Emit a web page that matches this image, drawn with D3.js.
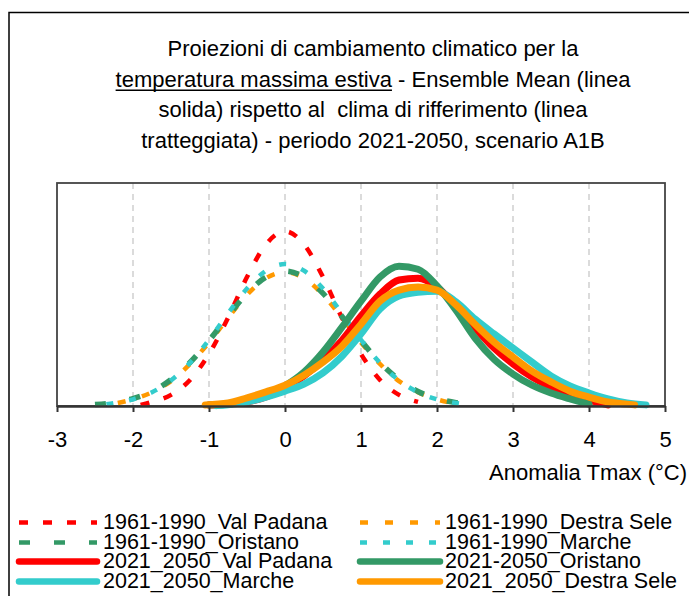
<!DOCTYPE html>
<html>
<head>
<meta charset="utf-8">
<script src="https://cdn.jsdelivr.net/npm/d3@7"></script>
<style>
  body { margin: 0; background: #fff; }
  text { font-family: "Liberation Sans", Arial, sans-serif; fill: #000; white-space: pre; }
</style>
</head>
<body>
<div id="chart"></div>
<script>
// anomaly (°C) grid of each curve, and relative frequency (%)
const xRefValPadana = [-1.9, -1.75, -1.5, -1.25, -1, -0.75, -0.5, -0.25, 0, 0.25, 0.5, 0.75, 1, 1.25, 1.5, 1.75];
const yRefValPadana = [0.03, 0.11, 0.30, 0.70, 1.40, 2.37, 3.47, 4.35, 4.70, 4.35, 3.47, 2.37, 1.40, 0.70, 0.30, 0.11];

const xRefOristano = [-2.5, -2.25, -2, -1.75, -1.5, -1.25, -1, -0.75, -0.5, -0.25, 0, 0.25, 0.5, 0.75, 1, 1.25, 1.5, 1.75, 2, 2.25, 2.5];
const yRefOristano = [0.04, 0.09, 0.20, 0.39, 0.71, 1.17, 1.76, 2.41, 3.03, 3.47, 3.63, 3.47, 3.03, 2.41, 1.76, 1.17, 0.71, 0.39, 0.20, 0.09, 0.04];

const xRefMarche = [-2.35, -2.25, -2, -1.75, -1.5, -1.25, -1, -0.75, -0.5, -0.25, 0, 0.25, 0.5, 0.75, 1, 1.25, 1.5, 1.75, 2, 2.25, 2.35];
const yRefMarche = [0.05, 0.08, 0.18, 0.37, 0.69, 1.16, 1.78, 2.49, 3.16, 3.64, 3.82, 3.64, 3.16, 2.49, 1.78, 1.16, 0.69, 0.37, 0.18, 0.08, 0.05];

const xRefDestraSele = [-2.2, -2, -1.75, -1.5, -1.25, -1, -0.75, -0.5, -0.25, 0, 0.25, 0.5, 0.75, 1, 1.25, 1.5, 1.75, 2, 2.2];
const yRefDestraSele = [0.08, 0.18, 0.37, 0.67, 1.13, 1.71, 2.37, 2.99, 3.44, 3.60, 3.44, 2.99, 2.37, 1.71, 1.13, 0.67, 0.37, 0.18, 0.08];

const xFutValPadana = [-1, -0.75, -0.5, -0.25, 0, 0.25, 0.5, 0.75, 1, 1.25, 1.5, 1.75, 2, 2.25, 2.5, 2.75, 3, 3.25, 3.5, 3.75, 4, 4.25];
const yFutValPadana = [0.03, 0.05, 0.11, 0.24, 0.48, 0.81, 1.24, 1.77, 2.42, 3.01, 3.39, 3.44, 3.20, 2.69, 2.10, 1.56, 1.13, 0.78, 0.51, 0.30, 0.16, 0.03];

const xFutOristano = [-1, -0.75, -0.5, -0.25, 0, 0.25, 0.5, 0.75, 1, 1.25, 1.5, 1.75, 2, 2.25, 2.5, 2.75, 3, 3.25, 3.5, 3.75, 4];
const yFutOristano = [0.03, 0.05, 0.13, 0.27, 0.54, 0.91, 1.45, 2.12, 2.82, 3.47, 3.76, 3.68, 3.23, 2.58, 1.83, 1.26, 0.86, 0.56, 0.35, 0.19, 0.05];

const xFutMarche = [-0.9, -0.75, -0.5, -0.25, 0, 0.25, 0.5, 0.75, 1, 1.25, 1.5, 1.75, 2, 2.25, 2.5, 2.75, 3, 3.25, 3.5, 3.75, 4, 4.25, 4.5, 4.75];
const yFutMarche = [0.01, 0.03, 0.11, 0.24, 0.40, 0.59, 0.89, 1.34, 1.94, 2.61, 2.96, 3.06, 3.09, 2.80, 2.34, 1.94, 1.56, 1.18, 0.81, 0.54, 0.35, 0.19, 0.08, 0.03];

const xFutDestraSele = [-1.05, -0.75, -0.5, -0.25, 0, 0.25, 0.5, 0.75, 1, 1.25, 1.5, 1.75, 2, 2.25, 2.5, 2.75, 3, 3.25, 3.5, 3.75, 4, 4.25, 4.5, 4.6];
const yFutDestraSele = [0.03, 0.08, 0.22, 0.38, 0.56, 0.83, 1.18, 1.61, 2.20, 2.82, 3.12, 3.20, 3.12, 2.72, 2.20, 1.72, 1.32, 0.94, 0.65, 0.40, 0.24, 0.11, 0.05, 0.03];

const xTicks = [-3, -2, -1, 0, 1, 2, 3, 4, 5];

const titleLines = [
  "Proiezioni di cambiamento climatico per la",
  "temperatura massima estiva - Ensemble Mean (linea",
  "solida) rispetto al  clima di rifferimento (linea",
  "tratteggiata) - periodo 2021-2050, scenario A1B"
];
const underlinedPart = "temperatura massima estiva";
const xAxisTitle = "Anomalia Tmax (°C)";

// legend order as in the picture: row by row, two columns
const legendNames = [
  "1961-1990_Val Padana", "1961-1990_Destra Sele",
  "1961-1990_Oristano", "1961-1990_Marche",
  "2021_2050_Val Padana", "2021-2050_Oristano",
  "2021_2050_Marche", "2021_2050_Destra Sele"
];

const red = "#ff0000", green = "#339966", cyan = "#33cccc", orange = "#ff9900";

const series = [
  { name: "1961-1990_Val Padana", xs: xRefValPadana, ys: yRefValPadana, color: red, width: 4.5, dash: "9,15" },
  { name: "1961-1990_Oristano", xs: xRefOristano, ys: yRefOristano, color: green, width: 5.5, dash: "11,24" },
  { name: "1961-1990_Marche", xs: xRefMarche, ys: yRefMarche, color: cyan, width: 4.5, dash: "7,16" },
  { name: "1961-1990_Destra Sele", xs: xRefDestraSele, ys: yRefDestraSele, color: orange, width: 4.5, dash: "8,17" },
  { name: "2021_2050_Val Padana", xs: xFutValPadana, ys: yFutValPadana, color: red, width: 7, dash: null },
  { name: "2021-2050_Oristano", xs: xFutOristano, ys: yFutOristano, color: green, width: 7, dash: null },
  { name: "2021_2050_Marche", xs: xFutMarche, ys: yFutMarche, color: cyan, width: 7, dash: null },
  { name: "2021_2050_Destra Sele", xs: xFutDestraSele, ys: yFutDestraSele, color: orange, width: 7, dash: null }
];

const width = 689, height = 596;
const plot = { left: 57, right: 665, top: 183, bottom: 406 };

const svg = d3.select("#chart").append("svg")
  .attr("width", width)
  .attr("height", height);

// chart area border (only left and top are inside the window)
svg.append("path")
  .attr("d", `M9,${height + 5}V12.5H${width + 5}`)
  .attr("fill", "none")
  .attr("stroke", "#000")
  .attr("stroke-width", 1.5);

const x = d3.scaleLinear().domain([-3, 5]).range([plot.left, plot.right]);
const y = d3.scaleLinear().domain([0, 6]).range([plot.bottom, plot.top]);

// title
const title = svg.append("g").attr("font-size", 22).attr("text-anchor", "middle");
titleLines.forEach((t, i) => {
  const txt = title.append("text")
    .attr("x", 373)
    .attr("y", 56 + i * 30.7)
    .text(t);
  if (i === 1) {
    const node = txt.node();
    const bb = node.getBBox();
    const w = node.getSubStringLength(0, underlinedPart.length);
    title.append("line")
      .attr("x1", bb.x).attr("x2", bb.x + w)
      .attr("y1", 56 + i * 30.7 + 3.5).attr("y2", 56 + i * 30.7 + 3.5)
      .attr("stroke", "#000")
      .attr("stroke-width", 1.5);
  }
});

// vertical gridlines
svg.append("g")
  .selectAll("line")
  .data(xTicks.slice(1, -1))
  .join("line")
  .attr("x1", d => x(d)).attr("x2", d => x(d))
  .attr("y1", plot.top).attr("y2", plot.bottom)
  .attr("stroke", "#c8c8c8")
  .attr("stroke-width", 1.3)
  .attr("stroke-dasharray", "6,5");

// plot frame
svg.append("rect")
  .attr("x", plot.left).attr("y", plot.top)
  .attr("width", plot.right - plot.left)
  .attr("height", plot.bottom - plot.top)
  .attr("fill", "none")
  .attr("stroke", "#444")
  .attr("stroke-width", 1.8);

const line = d3.line()
  .x(d => x(d[0]))
  .y(d => y(d[1]))
  .curve(d3.curveMonotoneX);

const drawOrder = [0, 3, 1, 2, 4, 5, 6, 7];
svg.append("g")
  .selectAll("path")
  .data(drawOrder.map(i => series[i]))
  .join("path")
  .attr("d", s => line(s.xs.map((v, i) => [v, s.ys[i]])))
  .attr("fill", "none")
  .attr("stroke", s => s.color)
  .attr("stroke-width", s => s.width)
  .attr("stroke-dasharray", s => s.dash)
  .attr("stroke-linecap", s => s.dash ? "butt" : "round")
  .attr("stroke-linejoin", "round");

// x axis
const xAxis = svg.append("g")
  .attr("transform", `translate(0,${plot.bottom})`)
  .call(d3.axisBottom(x).tickValues(xTicks).tickFormat(d => String(d)).tickSize(6).tickPadding(19).tickSizeOuter(0));
xAxis.select(".domain").attr("stroke", "#333").attr("stroke-width", 2.5);
xAxis.selectAll(".tick line").attr("stroke", "#333").attr("stroke-width", 2);
xAxis.selectAll(".tick text")
  .attr("font-size", 22)
  .attr("font-family", "Liberation Sans, Arial, sans-serif")
  .attr("fill", "#000");

svg.append("text")
  .attr("x", 687)
  .attr("y", 480)
  .attr("text-anchor", "end")
  .attr("font-size", 22)
  .text(xAxisTitle);

// legend
const legend = svg.append("g").attr("font-size", 21.5);
const colX = [{ x1: 19, x2: 97, tx: 103 }, { x1: 360, x2: 440, tx: 445 }];
const rowY = [529, 549, 568, 588];
legendNames.forEach((name, i) => {
  const s = series.find(d => d.name === name);
  const c = colX[i % 2];
  const baseY = rowY[Math.floor(i / 2)];
  legend.append("line")
    .attr("x1", c.x1).attr("x2", c.x2)
    .attr("y1", baseY - 6.5).attr("y2", baseY - 6.5)
    .attr("stroke", s.color)
    .attr("stroke-width", s.dash ? 4.5 : 6.5)
    .attr("stroke-dasharray", s.dash)
    .attr("stroke-linecap", s.dash ? "butt" : "round");
  legend.append("text")
    .attr("x", c.tx)
    .attr("y", baseY)
    .text(name);
});
</script>
</body>
</html>
